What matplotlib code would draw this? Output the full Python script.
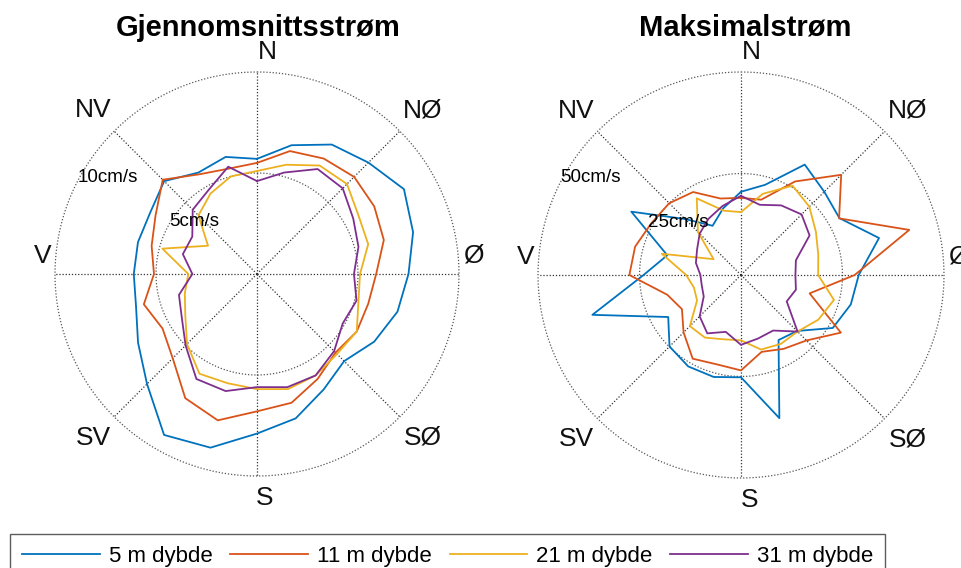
import numpy as np
import matplotlib
matplotlib.use("Agg")
import matplotlib.pyplot as plt

plt.rcParams['font.family'] = ['Liberation Sans', 'DejaVu Sans']

# Directions (degrees, clockwise from north)
directions = [0, 15, 30, 45, 60, 75, 90, 105, 120, 135, 150, 165,
              180, 195, 210, 225, 240, 255, 270, 285, 300, 315, 330, 345]

# Gjennomsnittsstrøm (cm/s)
mean_5 = [5.7, 6.6, 7.4, 7.8, 8.4, 8.0, 7.5, 7.2, 6.7, 6.1, 6.6, 7.4,
          7.9, 8.9, 9.2, 7.7, 6.8, 6.2, 6.1, 6.1, 6.1, 6.5, 5.8, 6.0]
mean_11 = [5.5, 6.3, 6.6, 6.8, 6.7, 6.5, 5.9, 5.7, 5.7, 5.5, 6.0, 6.6,
           6.8, 7.5, 7.1, 5.9, 5.4, 5.8, 5.1, 5.4, 5.8, 6.6, 5.7, 5.4]
mean_21 = [5.1, 5.6, 6.2, 6.3, 5.8, 5.7, 5.1, 5.2, 5.7, 5.6, 5.8, 5.9,
           5.7, 5.6, 5.7, 4.9, 4.1, 3.7, 3.4, 4.85, 2.8, 4.1, 4.6, 5.0]
mean_31 = [4.6, 5.2, 6.0, 6.0, 5.5, 5.2, 4.8, 5.1, 4.9, 5.4, 5.8, 5.8,
           5.6, 6.0, 6.0, 5.0, 4.3, 4.0, 3.2, 3.8, 3.7, 4.5, 4.8, 5.5]

# Maksimalstrøm (cm/s)
max_5 = [20.5, 23, 31.4, 29, 28, 35.2, 29, 28, 26.1, 19.5, 18.5, 36.5,
         25.2, 26, 26, 24.9, 20.7, 37.9, 24, 18.8, 31.2, 19.5, 14, 17]
max_11 = [19, 19.2, 26.6, 34.9, 27.9, 42.9, 28, 17.5, 28.4, 22.8, 21, 19.6,
          23.5, 22.8, 23.8, 20, 16.8, 18.8, 27.5, 27, 25.5, 25, 23.6, 19.5]
max_21 = [15.5, 20.7, 25.4, 23.8, 21.3, 19.7, 19, 23.7, 22, 19.7, 19.6, 19,
          16.1, 16.4, 17.8, 17.8, 12.5, 12, 13.5, 20.2, 7.8, 15, 21.8, 16.4]
max_31 = [19.5, 17.9, 19.8, 21.1, 19.5, 14, 13.4, 14, 13, 19.7, 15.8, 16.2,
          17.2, 14.5, 16.6, 14.4, 10.6, 10, 10, 11.5, 12.5, 14.4, 16, 17.6]

series_labels = ['5 m dybde', '11 m dybde', '21 m dybde', '31 m dybde']
colors = ['#0072BD', '#D95319', '#EDB120', '#7E2F8E']
compass = ['N', 'NØ', 'Ø', 'SØ', 'S', 'SV', 'V', 'NV']

W, H = 962, 568
fig = plt.figure(figsize=(W / 100, H / 100), dpi=100)


def px_axes(cx, cy, r):
    return [(cx - r) / W, 1 - (cy + r) / H, 2 * r / W, 2 * r / H]


def draw_panel(rect, series, rmax, ring_labels, title, title_x):
    ax = fig.add_axes(rect, projection='polar')
    ax.set_theta_zero_location('N')
    ax.set_theta_direction(-1)
    ax.set_ylim(0, rmax)
    ax.set_xticks([])
    ax.set_yticks([])
    ax.grid(False)
    ax.spines['polar'].set_visible(False)
    ax.patch.set_alpha(0)
    t = np.linspace(0, 2 * np.pi, 361)
    for rr in (rmax / 2, rmax):
        ax.plot(t, np.full_like(t, rr), ls=(0, (1, 1.5)), color='#555555', lw=0.9, clip_on=False)
    for k in range(8):
        a = np.deg2rad(45 * k)
        ax.plot([a, a], [0, rmax], ls=(0, (1, 1.5)), color='#333333', lw=0.9)
    th = np.deg2rad(directions + [directions[0]])
    for vals, c in zip(series, colors):
        ax.plot(th, list(vals) + [vals[0]], color=c, lw=1.3)
    # compass labels
    pos = [(0.525, 1.05), (0.91, 0.905), (1.035, 0.545), (0.91, 0.095),
           (0.52, -0.055), (0.095, 0.095), (-0.03, 0.545), (0.095, 0.905)]
    for lab, (x, y) in zip(compass, pos):
        ax.text(x, y, lab, transform=ax.transAxes, ha='center', va='center',
                fontsize=19, color='#111111', clip_on=False)
    # ring labels
    ax.text(0.13, 0.74, ring_labels[1], transform=ax.transAxes, ha='center', va='center', fontsize=13.5)
    ax.text(0.345, 0.63, ring_labels[0], transform=ax.transAxes, ha='center', va='center', fontsize=13.5)
    fig.text(title_x / W, 1 - 28 / H, title, ha='center', va='center',
             fontsize=21, fontweight='bold')
    return ax


ax1 = draw_panel(px_axes(257, 274, 202), [mean_5, mean_11, mean_21, mean_31], 10,
                 ['5cm/s', '10cm/s'], 'Gjennomsnittsstrøm', 258)
ax2 = draw_panel(px_axes(741, 275, 203), [max_5, max_11, max_21, max_31], 50,
                 ['25cm/s', '50cm/s'], 'Maksimalstrøm', 745)

handles = [plt.Line2D([], [], color=c, lw=1.3) for c in colors]
leg = fig.legend(handles, series_labels, loc='upper left', bbox_to_anchor=(10 / W, 1 - 534 / H),
                 ncol=4, fontsize=16, handlelength=3.5, handletextpad=0.4, columnspacing=0.8,
                 frameon=True, fancybox=False, edgecolor='#333333', borderaxespad=0,
                 borderpad=0.55)
leg.get_frame().set_linewidth(1.0)

fig.savefig('out.png', dpi=100)
